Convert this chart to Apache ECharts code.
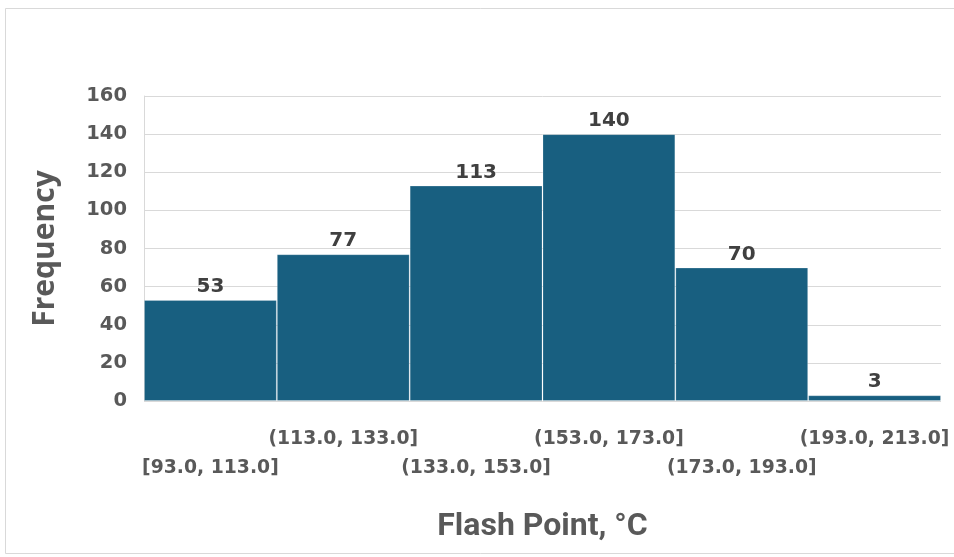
<!DOCTYPE html>
<html><head><meta charset="utf-8">
<script src="https://cdn.jsdelivr.net/npm/echarts@6/dist/echarts.min.js"></script>
<style>html,body{margin:0;padding:0;background:#fff}#c{width:954px;height:557px}</style>
</head><body><div id="c"></div>
<script>
const categories = ['[93.0, 113.0]','(113.0, 133.0]','(133.0, 153.0]','(153.0, 173.0]','(173.0, 193.0]','(193.0, 213.0]'];
const frequencies = [53, 77, 113, 140, 70, 3];
const yTicks = [0, 20, 40, 60, 80, 100, 120, 140, 160];

const F = 'DejaVu Sans, Open Sans, sans-serif';
const chart = echarts.init(document.getElementById('c'), null, {renderer:'canvas'});
chart.setOption({
  animation:false,
  backgroundColor:'#fff',
  graphic:[{type:'rect', shape:{x:5.5,y:8.5,width:951,height:545}, style:{fill:'none',stroke:'#d9d9d9',lineWidth:1}, silent:true}],
  grid:{left:144, right:13, top:96, bottom:156},
  xAxis:{
    type:'category', data:categories,
    name:'Flash Point, °C', nameLocation:'middle', nameGap:110,
    nameTextStyle:{fontFamily:'Liberation Sans Narrow, Roboto, sans-serif', fontSize:32, fontWeight:'bold', color:'#595959'},
    axisLine:{show:false}, axisTick:{show:false},
    axisLabel:{
      interval:0, margin:24,
      fontFamily:F, fontSize:18.8, fontWeight:'bold', color:'#595959',
      lineHeight:29,
      formatter:(v,i)=> i%2===0 ? '\n'+v : v
    }
  },
  yAxis:{
    type:'value', min:0, max:160, interval:20,
    name:'Frequency', nameLocation:'middle', nameGap:84,
    nameTextStyle:{fontFamily:'Open Sans, Noto Sans, sans-serif', fontSize:30, fontWeight:'bold', color:'#595959'},
    axisLine:{show:true, lineStyle:{color:'#d9d9d9'}}, axisTick:{show:false},
    splitLine:{lineStyle:{color:'#d9d9d9', width:1}},
    axisLabel:{margin:17, fontFamily:F, fontSize:19.5, fontWeight:'bold', color:'#595959',
      formatter:v=> yTicks.includes(v) ? String(v) : ''}
  },
  series:[{
    type:'bar', data:frequencies, barCategoryGap:'0%',
    itemStyle:{color:'#185f80', borderColor:'rgba(255,255,255,0.2)', borderWidth:1},
    label:{show:true, position:'top', distance:3, fontFamily:F, fontSize:20, fontWeight:'bold', color:'#404040'}
  }]
});
</script></body></html>
